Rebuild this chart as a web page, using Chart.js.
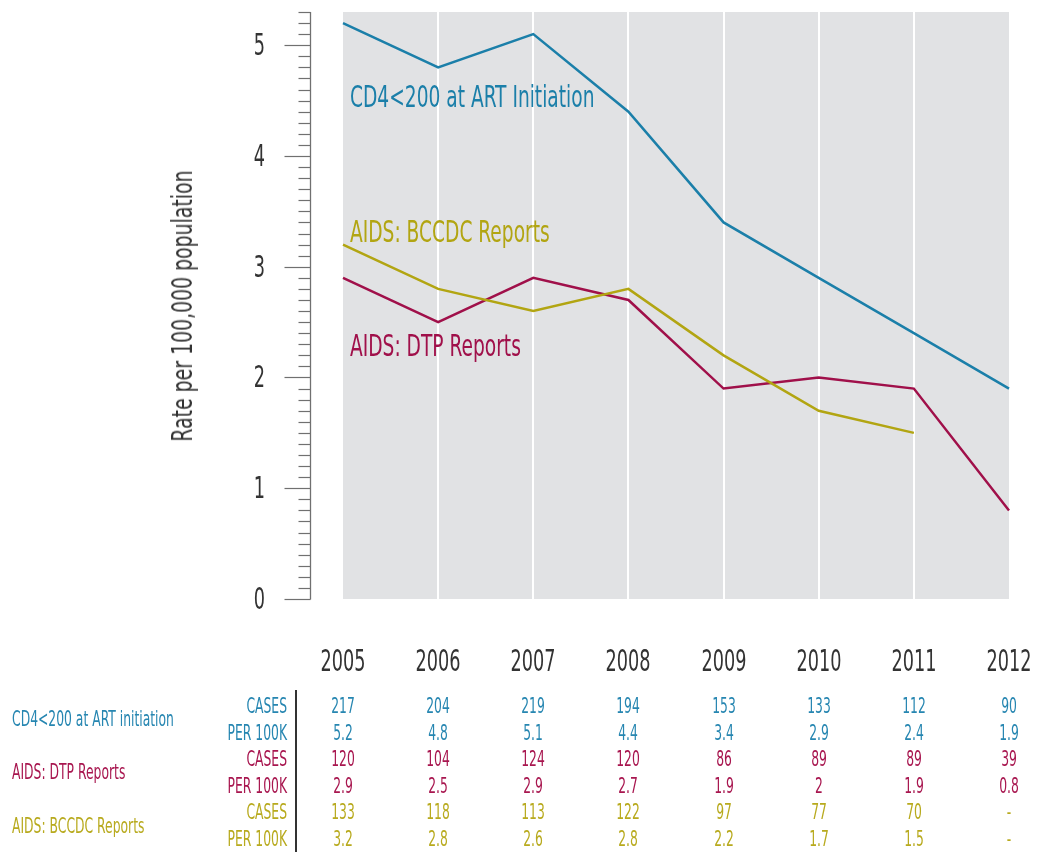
<!DOCTYPE html>
<html>
<head>
<meta charset="utf-8">
<script src="https://cdn.jsdelivr.net/npm/chart.js@4.4.1/dist/chart.umd.min.js"></script>
<style>
  html,body{margin:0;padding:0;background:#fff;}
  #wrap{position:relative;width:1037px;height:852px;overflow:hidden;}
  #c{position:absolute;left:0;top:0;}
  .t{position:absolute;white-space:nowrap;font-family:'DejaVu Sans Condensed','DejaVu Sans',sans-serif;line-height:1;transform-origin:0 0;}
</style>
</head>
<body>
<div id="wrap"><canvas id="c" width="1037" height="852"></canvas></div>
<script>
const years = ['2005','2006','2007','2008','2009','2010','2011','2012'];
const yTicks = [0, 1, 2, 3, 4, 5];
const cd4Rate   = [5.2, 4.8, 5.1, 4.4, 3.4, 2.9, 2.4, 1.9];
const dtpRate   = [2.9, 2.5, 2.9, 2.7, 1.9, 2.0, 1.9, 0.8];
const bccdcRate = [3.2, 2.8, 2.6, 2.8, 2.2, 1.7, 1.5, null];
const cd4Cases   = ['217','204','219','194','153','133','112','90'];
const cd4Per     = ['5.2','4.8','5.1','4.4','3.4','2.9','2.4','1.9'];
const dtpCases   = ['120','104','124','120','86','89','89','39'];
const dtpPer     = ['2.9','2.5','2.9','2.7','1.9','2','1.9','0.8'];
const bccdcCases = ['133','118','113','122','97','77','70','-'];
const bccdcPer   = ['3.2','2.8','2.6','2.8','2.2','1.7','1.5','-'];
const seriesNames = ['CD4<200 at ART initiation','AIDS: DTP Reports','AIDS: BCCDC Reports'];
const plotLabels  = ['CD4<200 at ART Initiation','AIDS: DTP Reports','AIDS: BCCDC Reports'];
const rowLabels = ['CASES','PER 100K'];
const yTitle = 'Rate per 100,000 population';

const BLUE = '#1b7fa9', RED = '#a0104a', OLIVE = '#b2a512';
const TBLUE = '#2686b1', TRED = '#a8164f', TOLIVE = '#b8aa1e';

const bgPlugin = {
  id: 'bg',
  beforeDraw(chart){
    const {ctx, chartArea:a} = chart;
    const x = chart.scales.x;
    ctx.save();
    ctx.fillStyle = '#e1e2e4';
    ctx.fillRect(a.left, a.top, a.right - a.left, a.bottom - a.top);
    ctx.strokeStyle = '#ffffff';
    ctx.lineWidth = 2;
    for (let i = 1; i < years.length - 1; i++) {
      const px = Math.round(x.getPixelForValue(i));
      ctx.beginPath();
      ctx.moveTo(px, a.top);
      ctx.lineTo(px, a.bottom);
      ctx.stroke();
    }
    ctx.restore();
  },
  afterDraw(chart){
    const {ctx, chartArea:a} = chart;
    const y = chart.scales.y;
    const ax = a.left - 32.5;
    ctx.save();
    ctx.strokeStyle = '#707070';
    ctx.lineWidth = 1.3;
    ctx.beginPath();
    ctx.moveTo(ax, y.getPixelForValue(0) + 0.5);
    ctx.lineTo(ax, y.getPixelForValue(y.max));
    ctx.stroke();
    ctx.lineWidth = 1.2;
    for (let i = 0; i <= Math.round(y.max * 10); i++) {
      const v = i / 10;
      const py = Math.round(y.getPixelForValue(v)) + 0.5;
      const major = i % 10 === 0;
      ctx.beginPath();
      ctx.moveTo(ax - (major ? 26 : 12), py);
      ctx.lineTo(ax, py);
      ctx.stroke();
    }
    ctx.restore();
  }
};

const chart = new Chart(document.getElementById('c'), {
  type: 'line',
  data: {
    labels: years,
    datasets: [
      {label: plotLabels[0], data: cd4Rate, borderColor: BLUE},
      {label: plotLabels[2], data: bccdcRate, borderColor: OLIVE},
      {label: plotLabels[1], data: dtpRate, borderColor: RED}
    ]
  },
  options: {
    responsive: false,
    animation: false,
    devicePixelRatio: 1,
    layout: {padding: {left: 343, top: 12, right: 28, bottom: 253}},
    elements: {
      line: {borderWidth: 2.5, tension: 0, fill: false},
      point: {radius: 0, hoverRadius: 0}
    },
    plugins: {legend: {display: false}, tooltip: {enabled: false}},
    scales: {
      x: {type: 'category', offset: false, display: false},
      y: {min: 0, max: 5.3, display: false}
    }
  },
  plugins: [bgPlugin]
});

const wrap = document.getElementById('wrap');
function place(text, x, y, align, size, color, sx, rot){
  const d = document.createElement('div');
  d.className = 't';
  d.textContent = text;
  d.style.fontSize = size + 'px';
  d.style.color = color;
  d.style.left = x + 'px';
  d.style.top = y + 'px';
  const tx = align === 'center' ? '-50%' : (align === 'right' ? '-100%' : '0');
  d.style.transform = (rot ? 'rotate(' + rot + 'deg) ' : '') + 'scaleX(' + sx + ') translate(' + tx + ',-50%)';
  wrap.appendChild(d);
}

const xs = chart.scales.x, ys = chart.scales.y, ca = chart.chartArea;

// axis labels
years.forEach((yr, j) => place(yr, xs.getPixelForValue(j), 661, 'center', 30, '#333333', 0.655));
yTicks.forEach(v => place(String(v), ca.left - 78, ys.getPixelForValue(v), 'right', 30, '#333333', 0.655));
place(yTitle, 183, (ca.top + ca.bottom) / 2, 'center', 28, '#333333', 0.75, -90);

// in-plot series labels
place(plotLabels[0], 350, 96, 'left', 31, BLUE, 0.668);
place(plotLabels[2], 350, 231, 'left', 31, OLIVE, 0.668);
place(plotLabels[1], 350, 345, 'left', 31, RED, 0.668);

// table
const rows = [
  {label: rowLabels[0], vals: cd4Cases, color: TBLUE},
  {label: rowLabels[1], vals: cd4Per, color: TBLUE},
  {label: rowLabels[0], vals: dtpCases, color: TRED},
  {label: rowLabels[1], vals: dtpPer, color: TRED},
  {label: rowLabels[0], vals: bccdcCases, color: TOLIVE},
  {label: rowLabels[1], vals: bccdcPer, color: TOLIVE}
];
const rowY = [706, 732.5, 759, 785.5, 812, 838.5];
rows.forEach((r, i) => {
  place(r.label, 287, rowY[i], 'right', 20.5, r.color, 0.67);
  r.vals.forEach((v, j) => {
    place(v, xs.getPixelForValue(j), rowY[i], 'center', 20.5, r.color, 0.67);
  });
});
place(seriesNames[0], 12, 719, 'left', 20.5, TBLUE, 0.67);
place(seriesNames[1], 12, 772, 'left', 20.5, TRED, 0.67);
place(seriesNames[2], 12, 826, 'left', 20.5, TOLIVE, 0.67);

const sep = document.createElement('div');
sep.style.cssText = 'position:absolute;left:295px;top:690px;width:2px;height:162px;background:#333;';
wrap.appendChild(sep);
</script>
</body>
</html>
